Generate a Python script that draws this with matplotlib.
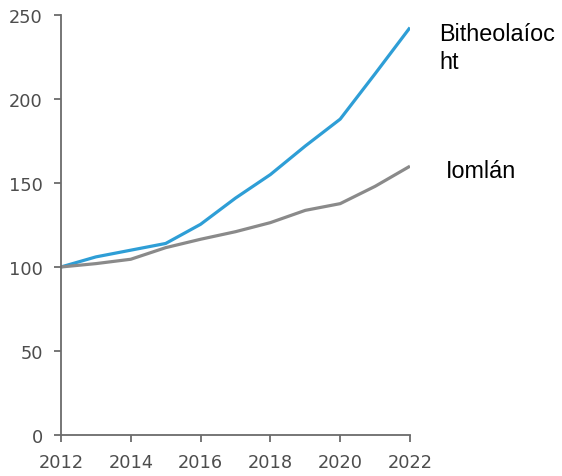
import matplotlib
matplotlib.use("Agg")
import matplotlib.pyplot as plt

years = [2012, 2013, 2014, 2015, 2016, 2017, 2018, 2019, 2020, 2021, 2022]
bio = [100, 106, 110, 114, 125.4, 141, 155, 172, 188, 215, 242.5]
total = [100, 102, 104.6, 111.5, 116.5, 121, 126.4, 133.7, 137.7, 148, 160]
label_bio = "Bitheolaíoc\nht"
label_total = "Iomlán"
xticks = [2012, 2014, 2016, 2018, 2020, 2022]
yticks = [0, 50, 100, 150, 200, 250]

fig = plt.figure(figsize=(5.62, 4.77), dpi=100)
ax = fig.add_axes([0.1085, 0.086, 0.621, 0.8805])

ax.plot(years, bio, color="#2E9ED6", lw=2.3, solid_capstyle="butt")
ax.plot(years, total, color="#8A8A8A", lw=2.3, solid_capstyle="butt")

ax.set_xlim(2012, 2022)
ax.set_ylim(0, 250)
ax.set_xticks(xticks)
ax.set_yticks(yticks)
for s in ["top", "right"]:
    ax.spines[s].set_visible(False)
for s in ["left", "bottom"]:
    ax.spines[s].set_color("#6b6b6b")
    ax.spines[s].set_linewidth(1.3)
ax.tick_params(axis="both", colors="#6b6b6b", length=5, width=1.3,
               labelsize=12.8, labelcolor="#4d4d4d")
ax.tick_params(axis="y", pad=8)
ax.tick_params(axis="x", pad=8)

fig.text(439 / 562, 1 - 35 / 477, label_bio, fontsize=16.8, family="Liberation Sans",
         va="top", ha="left", linespacing=1.3,
         transform=fig.transFigure)
fig.texts[-1].set_va("center")
fig.texts[-1].set_y(1 - 48.5 / 477)
fig.text(446 / 562, 1 - 172 / 477, label_total, fontsize=16.8, family="Liberation Sans",
         va="center", ha="left")

fig.savefig("out.png", dpi=100)
